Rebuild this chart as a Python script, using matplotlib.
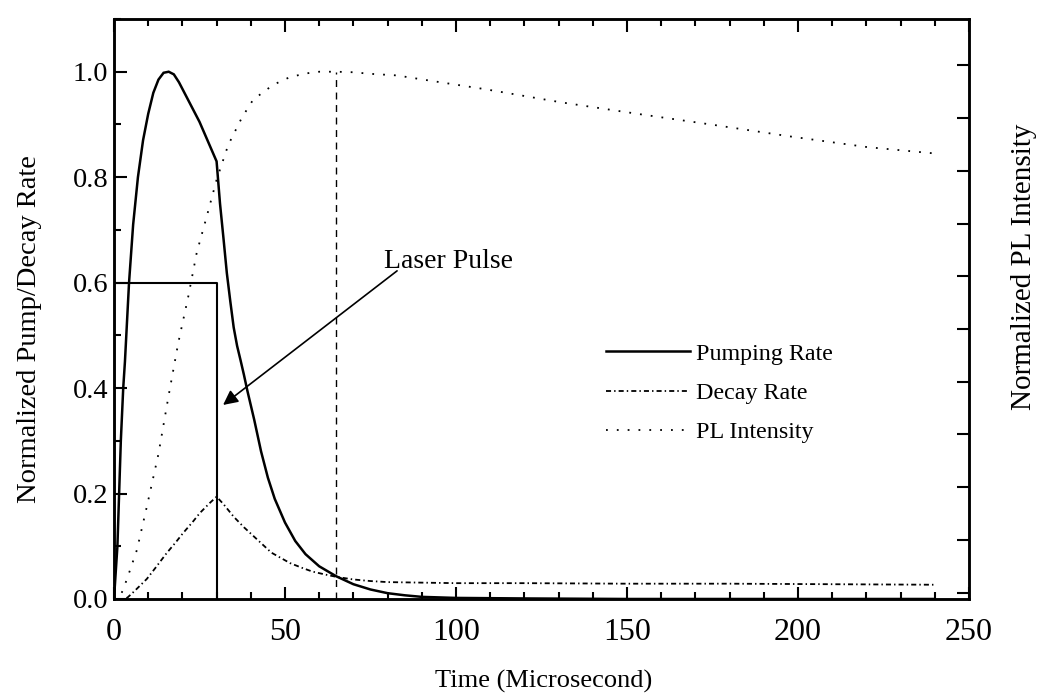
import matplotlib
matplotlib.use("Agg")
import matplotlib.pyplot as plt
from matplotlib.ticker import MultipleLocator

plt.rcParams['font.family'] = ['Liberation Serif', 'DejaVu Serif']

# ---- data ----
pump_x = [0, 1, 1.5, 2, 2.7, 3.2, 4.4, 5.6, 7, 8.5, 10, 11.5, 13, 14.5, 16, 17.5, 19,
          21, 23, 25, 27, 29, 30, 31, 32, 33, 34, 35, 36, 37, 38, 39, 41, 43, 45, 47,
          50, 53, 56, 60, 65, 70, 75, 80, 85, 90, 100, 120, 150, 200, 240]
pump_y = [0, 0.10, 0.20, 0.30, 0.40, 0.45, 0.60, 0.71, 0.80, 0.87, 0.92, 0.96, 0.985,
          0.998, 1.0, 0.995, 0.98, 0.955, 0.93, 0.905, 0.875, 0.845, 0.83, 0.75, 0.685,
          0.618, 0.565, 0.515, 0.48, 0.453, 0.425, 0.395, 0.34, 0.28, 0.23, 0.19, 0.145,
          0.11, 0.085, 0.062, 0.043, 0.028, 0.018, 0.011, 0.007, 0.004, 0.002, 0.001,
          0.0, 0.0, 0.0]

decay_x = [0, 3, 4, 6, 9.6, 12, 15.4, 18, 20.2, 23, 25.1, 28, 30, 32, 35, 38, 41, 44,
           46, 49, 51.5, 55, 58, 62, 65, 70, 75, 80, 90, 100, 120, 150, 180, 210, 240]
decay_y = [0, 0.0, 0.003, 0.015, 0.038, 0.058, 0.087, 0.107, 0.125, 0.146, 0.163, 0.182,
           0.194, 0.18, 0.156, 0.136, 0.118, 0.10, 0.088, 0.077, 0.068, 0.059, 0.052,
           0.046, 0.042, 0.037, 0.034, 0.032, 0.031, 0.030, 0.030, 0.029, 0.029, 0.028,
           0.027]

pl_x = [0, 1.8, 3.7, 6.7, 9.6, 13, 15.9, 18.8, 21.7, 24.2, 27.1, 30, 33.4, 37.4, 40.7,
        46.5, 51.5, 56.4, 60, 65, 70, 75, 82.7, 90.5, 108.4, 130.7, 153.2, 175.5, 198,
        220.3, 240]
pl_y = [0, 0.004, 0.036, 0.093, 0.175, 0.275, 0.383, 0.486, 0.573, 0.657, 0.725, 0.795,
        0.861, 0.913, 0.947, 0.975, 0.99, 0.997, 1.0, 1.0, 0.999, 0.996, 0.993, 0.985,
        0.967, 0.942, 0.92, 0.899, 0.877, 0.857, 0.845]

pulse_x = [0, 0, 30, 30]
pulse_y = [0, 0.6, 0.6, 0]

peak_x = [65, 65]
peak_y = [0, 1.0]

arrow_head = (31.9, 0.368)
note_pos = (79, 0.628)

labels = ["Pumping Rate", "Decay Rate", "PL Intensity"]
xticks = [0, 50, 100, 150, 200, 250]
yticks = [0.0, 0.2, 0.4, 0.6, 0.8, 1.0]

fig = plt.figure(figsize=(10.41, 6.96), dpi=100)
ax = fig.add_axes([0.1095, 0.1394, 0.8213, 0.8333])

l1, = ax.plot(pump_x, pump_y, color='black', lw=1.8, solid_joinstyle='miter')
l2, = ax.plot(decay_x, decay_y, color='black', lw=1.3, linestyle=(0, (2.8, 1.7, 0.8, 1.7)))
l3, = ax.plot(pl_x, pl_y, color='black', lw=1.3, linestyle=(0, (1, 5)))
ax.plot(pulse_x, pulse_y, color='black', lw=1.5)
ax.plot(peak_x, peak_y, color='black', lw=1.0, linestyle=(0, (5, 4)))

ax.annotate("Laser Pulse", xy=arrow_head, xytext=note_pos,
            fontsize=20, ha='left', va='baseline',
            arrowprops=dict(arrowstyle='-|>', color='black', lw=1.2,
                            mutation_scale=22, shrinkA=0, shrinkB=0,
                            patchA=None, relpos=(0.1, 0.12)))

leg = ax.legend([l1, l2, l3], labels, loc='center left',
                bbox_to_anchor=(0.5756, 0.355), frameon=False, fontsize=17.3,
                handlelength=3.5, handletextpad=0.25, labelspacing=0.72,
                borderpad=0, borderaxespad=0)

ax.set_xlim(0, 250)
ax.set_ylim(0, 1.1)
ax.set_xticks(xticks)
ax.set_yticks(yticks)
ax.set_xticklabels([str(t) for t in xticks])
ax.set_yticklabels([f"{t:.1f}" for t in yticks])
ax.xaxis.set_minor_locator(MultipleLocator(10))
ax.yaxis.set_minor_locator(MultipleLocator(0.1))
ax.tick_params(which='both', direction='in', top=True, right=False, width=1.5)
ax.tick_params(which='major', length=9)
ax.tick_params(which='minor', length=5)
ax.tick_params(axis='x', pad=14, labelsize=23)
ax.tick_params(axis='y', pad=4, labelsize=20.5)
for s in ax.spines.values():
    s.set_linewidth(1.8)

ax.set_xlabel("Time (Microsecond)", fontsize=19, va='center')
ax.xaxis.set_label_coords(0.503, -0.142)
ax.set_ylabel("Normalized Pump/Decay Rate", fontsize=20.5, va='center', ha='center')
ax.yaxis.set_label_coords(-0.099, 0.465)

ax2 = ax.twinx()
ax2.set_ylim(-0.012, 1.088)
ax2.yaxis.set_major_locator(MultipleLocator(0.1))
ax2.tick_params(direction='in', length=9, width=1.5, labelright=False)
ax2.set_ylabel("Normalized PL Intensity", fontsize=21, rotation=90, va='center', ha='center')
ax2.yaxis.set_label_coords(1.064, 0.572)
for s in ax2.spines.values():
    s.set_linewidth(1.8)

fig.savefig("out.png", dpi=100)
